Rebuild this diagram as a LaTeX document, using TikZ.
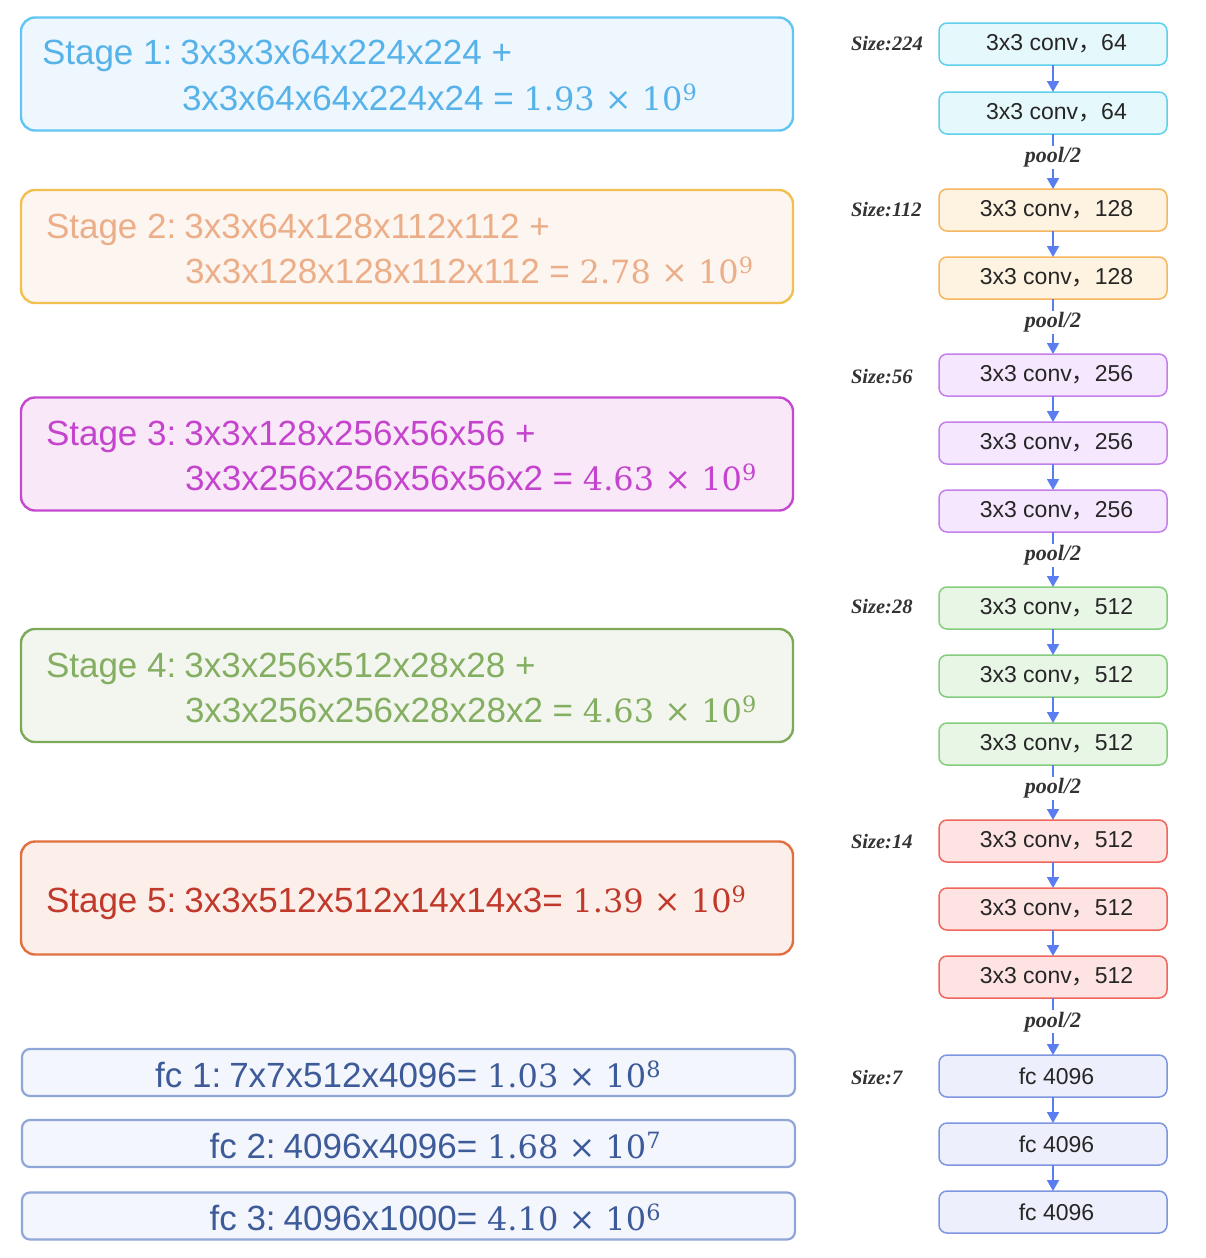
\documentclass[tikz,border=0pt]{standalone}
\usepackage{fontspec}
\setmainfont{Liberation Sans}
\newfontfamily\cjk{Noto Sans CJK SC}
\newfontfamily\serifbi{Liberation Serif}
\newfontfamily\numf{DejaVu Serif}
\usetikzlibrary{arrows.meta}
\definecolor{s1B}{HTML}{62C6F2}\definecolor{s1F}{HTML}{EDF7FD}\definecolor{s1T}{HTML}{56B2E8}
\definecolor{s2B}{HTML}{F0C050}\definecolor{s2F}{HTML}{FDF5EF}\definecolor{s2T}{HTML}{EBAE88}
\definecolor{s3B}{HTML}{C548CF}\definecolor{s3F}{HTML}{F9E9F8}\definecolor{s3T}{HTML}{C444CD}
\definecolor{s4B}{HTML}{7DAA58}\definecolor{s4F}{HTML}{F3F6EE}\definecolor{s4T}{HTML}{84AE62}
\definecolor{s5B}{HTML}{E07040}\definecolor{s5F}{HTML}{FCEFEA}\definecolor{s5T}{HTML}{C0392B}
\definecolor{fcB}{HTML}{8FA6D6}\definecolor{fcF}{HTML}{F4F6FD}\definecolor{fcT}{HTML}{3D5A99}
\definecolor{c1B}{HTML}{5FD0EC}\definecolor{c1F}{HTML}{E5F8FC}
\definecolor{c2B}{HTML}{F6B65E}\definecolor{c2F}{HTML}{FEF2E0}
\definecolor{c3B}{HTML}{C480EA}\definecolor{c3F}{HTML}{F5E7FD}
\definecolor{c4B}{HTML}{84CD7E}\definecolor{c4F}{HTML}{E8F6E6}
\definecolor{c5B}{HTML}{F0665C}\definecolor{c5F}{HTML}{FDE3E1}
\definecolor{c6B}{HTML}{7C96E0}\definecolor{c6F}{HTML}{EDF0FC}
\definecolor{arrC}{HTML}{5A7EF0}
\newcommand\sci[2]{{\numf\fontsize{32}{38}\selectfont #1 × 10\textsuperscript{#2}}}
\newcommand\cv[1]{3x3 conv{\cjk ，}#1}
\newcommand\gap{\hspace{8pt}}
\begin{document}
\begin{tikzpicture}[x=1pt,y=-1pt,
  every node/.style={inner sep=0pt, outer sep=0pt},
  lbox/.style={draw, line width=2.4pt, rounded corners=14pt, minimum width=772pt, minimum height=113pt},
  fcbox/.style={draw=fcB, fill=fcF, line width=2.2pt, rounded corners=8pt, minimum width=773pt, minimum height=47pt},
  rbox/.style={draw, line width=1.5pt, rounded corners=8pt, minimum width=228pt, minimum height=42pt, font=\fontsize{23}{26}\selectfont, text=black!85, execute at begin node={\hspace*{7pt}}},
  stxt/.style={anchor=base west, font=\fontsize{35}{40}\selectfont},
  ftxt/.style={anchor=base east, font=\fontsize{35}{40}\selectfont, text=fcT},
  sz/.style={anchor=base west, font=\serifbi\bfseries\itshape\fontsize{20.5}{24}\selectfont, text=black!80},
  pool/.style={fill=white, inner sep=1.5pt, font=\serifbi\bfseries\itshape\fontsize{22}{24}\selectfont, text=black!80},
  arr/.style={draw=arrC, line width=1.8pt, -{Triangle[width=12pt,length=11pt]}}
]
\useasboundingbox (0,0) rectangle (1206,1258);
% left boxes
\node[lbox, draw=s1B, fill=s1F] (L1) at (407,74) {};
\node[stxt, text=s1T] (L1a) at (42,64) {Stage 1:\gap 3x3x3x64x224x224 +};
\node[stxt, text=s1T] (L1b) at (182,110) {3x3x64x64x224x24 = \sci{1.93}{9}};
\node[lbox, draw=s2B, fill=s2F] (L2) at (407,246.5) {};
\node[stxt, text=s2T] (L2a) at (46,238) {Stage 2:\gap 3x3x64x128x112x112 +};
\node[stxt, text=s2T] (L2b) at (185,283) {3x3x128x128x112x112 = \sci{2.78}{9}};
\node[lbox, draw=s3B, fill=s3F] (L3) at (407,454) {};
\node[stxt, text=s3T] (L3a) at (46,445) {Stage 3:\gap 3x3x128x256x56x56 +};
\node[stxt, text=s3T] (L3b) at (185,490) {3x3x256x256x56x56x2 = \sci{4.63}{9}};
\node[lbox, draw=s4B, fill=s4F] (L4) at (407,685.5) {};
\node[stxt, text=s4T] (L4a) at (46,677) {Stage 4:\gap 3x3x256x512x28x28 +};
\node[stxt, text=s4T] (L4b) at (185,722) {3x3x256x256x28x28x2 = \sci{4.63}{9}};
\node[lbox, draw=s5B, fill=s5F] (L5) at (407,898) {};
\node[stxt, text=s5T] (L5a) at (46,912) {Stage 5:\gap 3x3x512x512x14x14x3= \sci{1.39}{9}};
\node[fcbox] (F1) at (408.5,1072.5) {};
\node[ftxt] (F1t) at (661,1087) {fc 1:\gap 7x7x512x4096= \sci{1.03}{8}};
\node[fcbox] (F2) at (408.5,1143.5) {};
\node[ftxt] (F2t) at (661,1158) {fc 2:\gap 4096x4096= \sci{1.68}{7}};
\node[fcbox] (F3) at (408.5,1216) {};
\node[ftxt] (F3t) at (661,1230) {fc 3:\gap 4096x1000= \sci{4.10}{6}};
% right column
\node[rbox, draw=c1B, fill=c1F] (r1) at (1053,44) {\cv{64}};
\node[rbox, draw=c1B, fill=c1F] (r2) at (1053,113) {\cv{64}};
\node[rbox, draw=c2B, fill=c2F] (r3) at (1053,210) {\cv{128}};
\node[rbox, draw=c2B, fill=c2F] (r4) at (1053,278) {\cv{128}};
\node[rbox, draw=c3B, fill=c3F] (r5) at (1053,375) {\cv{256}};
\node[rbox, draw=c3B, fill=c3F] (r6) at (1053,443) {\cv{256}};
\node[rbox, draw=c3B, fill=c3F] (r7) at (1053,511) {\cv{256}};
\node[rbox, draw=c4B, fill=c4F] (r8) at (1053,608) {\cv{512}};
\node[rbox, draw=c4B, fill=c4F] (r9) at (1053,676) {\cv{512}};
\node[rbox, draw=c4B, fill=c4F] (r10) at (1053,744) {\cv{512}};
\node[rbox, draw=c5B, fill=c5F] (r11) at (1053,841) {\cv{512}};
\node[rbox, draw=c5B, fill=c5F] (r12) at (1053,909) {\cv{512}};
\node[rbox, draw=c5B, fill=c5F] (r13) at (1053,977) {\cv{512}};
\node[rbox, draw=c6B, fill=c6F] (r14) at (1053,1076) {fc 4096};
\node[rbox, draw=c6B, fill=c6F] (r15) at (1053,1144) {fc 4096};
\node[rbox, draw=c6B, fill=c6F] (r16) at (1053,1212) {fc 4096};
% size labels
\node[sz] (z1) at (851,50) {Size:224};
\node[sz] (z2) at (851,216) {Size:112};
\node[sz] (z3) at (851,383) {Size:56};
\node[sz] (z4) at (851,613) {Size:28};
\node[sz] (z5) at (851,848) {Size:14};
\node[sz] (z6) at (851,1084) {Size:7};
% arrows
\draw[arr] (r1) -- (r2);
\draw[arr] (r2) -- (r3) node[pool, pos=0.42] (p1) {pool/2};
\draw[arr] (r3) -- (r4);
\draw[arr] (r4) -- (r5) node[pool, pos=0.42] (p2) {pool/2};
\draw[arr] (r5) -- (r6);
\draw[arr] (r6) -- (r7);
\draw[arr] (r7) -- (r8) node[pool, pos=0.42] (p3) {pool/2};
\draw[arr] (r8) -- (r9);
\draw[arr] (r9) -- (r10);
\draw[arr] (r10) -- (r11) node[pool, pos=0.42] (p4) {pool/2};
\draw[arr] (r11) -- (r12);
\draw[arr] (r12) -- (r13);
\draw[arr] (r13) -- (r14) node[pool, pos=0.42] (p5) {pool/2};
\draw[arr] (r14) -- (r15);
\draw[arr] (r15) -- (r16);
\end{tikzpicture}
\end{document}
